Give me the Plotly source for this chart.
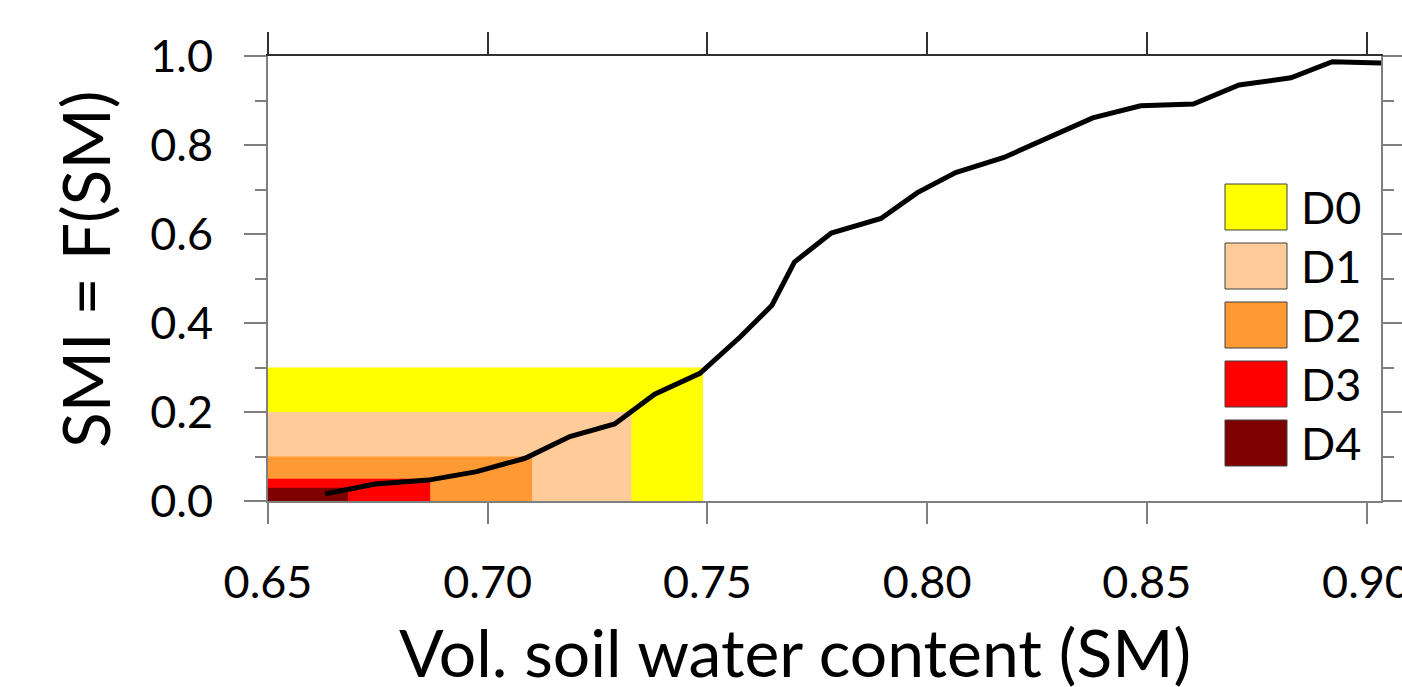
import plotly.graph_objects as go

# ---- data ----
sm = [0.663, 0.6744, 0.6865, 0.6975, 0.7085, 0.7187, 0.7289, 0.738, 0.7483,
      0.7575, 0.7647, 0.7698, 0.7782, 0.7895, 0.7978, 0.8065, 0.8175, 0.8276,
      0.8377, 0.8486, 0.8606, 0.871, 0.8828, 0.8922, 0.9033]
smi = [0.016, 0.038, 0.047, 0.066, 0.096, 0.145, 0.173, 0.240, 0.287,
       0.369, 0.440, 0.537, 0.602, 0.635, 0.693, 0.738, 0.772, 0.815,
       0.861, 0.888, 0.892, 0.935, 0.951, 0.987, 0.984]

categories = ["D0", "D1", "D2", "D3", "D4"]
thresholds = [0.30, 0.20, 0.10, 0.05, 0.03]
sm_at_threshold = [0.749, 0.7327, 0.7101, 0.6869, 0.6682]
cat_colors = ["#FFFF00", "#FFCC99", "#FF9933", "#FF0000", "#7F0000"]

x_ticks = [0.65, 0.70, 0.75, 0.80, 0.85, 0.90]
x_ticktext = ["0.65", "0.70", "0.75", "0.80", "0.85", "0.90"]
y_ticks = [0.0, 0.2, 0.4, 0.6, 0.8, 1.0]
y_ticktext = ["0.0", "0.2", "0.4", "0.6", "0.8", "1.0"]
x_range = [0.65, 0.9033]
y_range = [0.0, 1.0]

FONT = "Lato, Carlito, 'Open Sans', sans-serif"
AX_GRAY = "#7f7f7f"

fig = go.Figure()

# drought class rectangles (largest first)
for cat, thr, xr, col in zip(categories, thresholds, sm_at_threshold, cat_colors):
    fig.add_trace(go.Scatter(
        x=[x_range[0], xr, xr, x_range[0], x_range[0]],
        y=[0, 0, thr, thr, 0],
        fill="toself", fillcolor=col, mode="lines",
        line=dict(width=0, color=col), hoverinfo="skip", showlegend=False,
        name=cat))

fig.add_trace(go.Scatter(x=sm, y=smi, mode="lines",
                         line=dict(color="black", width=5),
                         showlegend=False, name="SMI"))

# dummy trace for top axis
fig.add_trace(go.Scatter(x=[None], y=[None], xaxis="x2", showlegend=False,
                         hoverinfo="skip"))

W, H = 1402, 687
L, R, T, B = 268, 21, 56, 186
pw, ph = W - L - R, H - T - B


def px_x(px):
    return (px - L) / pw


def px_y(py):
    return (H - B - py) / ph


# manual legend
box_tops = [184, 243, 302, 361, 420]
box_h = 46
for cat, col, top in zip(categories, cat_colors, box_tops):
    fig.add_shape(type="rect", xref="paper", yref="paper",
                  x0=px_x(1225), x1=px_x(1287),
                  y0=px_y(top + box_h), y1=px_y(top),
                  fillcolor=col, line=dict(color="#404040", width=1))
    fig.add_annotation(xref="paper", yref="paper", x=px_x(1299),
                       y=px_y(top + box_h / 2), text=cat, showarrow=False,
                       xanchor="left", yanchor="middle",
                       font=dict(family=FONT, size=45, color="black"))

# axis titles
fig.add_annotation(xref="paper", yref="paper", x=px_x(795), y=px_y(651),
                   text="Vol. soil water content (SM)", showarrow=False,
                   xanchor="center", yanchor="middle",
                   font=dict(family=FONT, size=66, color="black"))
fig.add_annotation(xref="paper", yref="paper", x=px_x(84), y=px_y(270),
                   text="SMI = F(SM)", showarrow=False, textangle=-90,
                   xanchor="center", yanchor="middle",
                   font=dict(family=FONT, size=66, color="black"))

fig.update_layout(
    width=W, height=H,
    margin=dict(l=L, r=R, t=T, b=B, autoexpand=False),
    paper_bgcolor="white", plot_bgcolor="white",
    font=dict(family=FONT, color="black"),
    xaxis=dict(range=x_range, tickvals=x_ticks, ticktext=x_ticktext,
               showgrid=False, zeroline=False, showline=True,
               linecolor=AX_GRAY, linewidth=2, ticks="outside", ticklen=21,
               tickwidth=1.5, tickcolor=AX_GRAY, ticklabelstandoff=20,
               ticklabeloverflow="allow",
               tickfont=dict(family=FONT, size=45, color="black"),
               automargin=False),
    xaxis2=dict(range=x_range, overlaying="x", side="top", matches="x",
                tickvals=x_ticks, showticklabels=False, showgrid=False,
                zeroline=False, showline=True, linecolor="#303030",
                linewidth=1.5, ticks="outside", ticklen=22, tickwidth=1.5,
                tickcolor="#303030", automargin=False),
    yaxis=dict(range=y_range, tickvals=y_ticks, ticktext=y_ticktext,
               showgrid=False, zeroline=False, showline=True, mirror="ticks",
               linecolor=AX_GRAY, linewidth=2, ticks="outside", ticklen=22,
               tickwidth=1.5, tickcolor=AX_GRAY, ticklabelstandoff=22,
               tickfont=dict(family=FONT, size=45, color="black"),
               minor=dict(tickvals=[0.1, 0.3, 0.5, 0.7, 0.9], ticks="outside",
                          ticklen=11, tickwidth=1.5, tickcolor=AX_GRAY),
               automargin=False),
)

fig.write_html("out.html")
